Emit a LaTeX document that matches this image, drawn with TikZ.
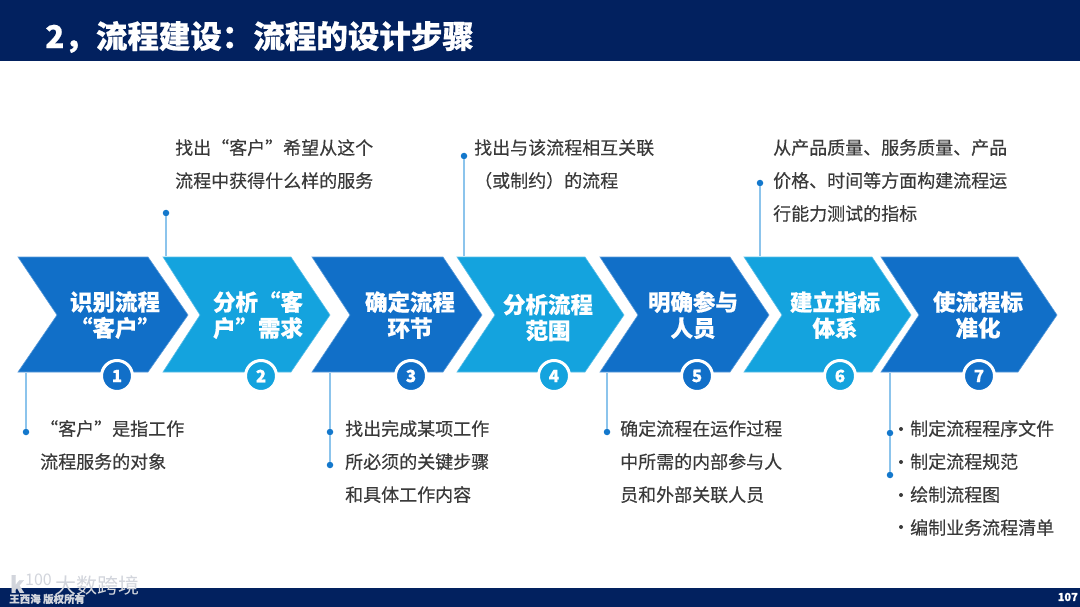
\documentclass[tikz,border=0pt]{standalone}
\usepackage{fontspec}
\setmainfont{Noto Sans CJK SC}[BoldFeatures={FakeBold=0.5}]
\newfontfamily\bodyfont{Noto Sans CJK SC}[FakeBold=0.3]
\usetikzlibrary{shadows}
\definecolor{navy}{HTML}{02215F}
\definecolor{blueA}{HTML}{116FC8}
\definecolor{blueB}{HTML}{14A3DE}
\definecolor{linkc}{HTML}{8CC4EC}
\definecolor{dotc}{HTML}{1478CC}
\definecolor{txt}{HTML}{3A3A3A}
\definecolor{wmark}{HTML}{D2D5DC}
\tikzset{
  x=1pt,y=-1pt,
  band/.style={fill=navy,draw=none},
  chevA/.style={fill=blueA,draw=blueA!70!white,line width=.6pt},
  chevB/.style={fill=blueB,draw=blueB!70!white,line width=.6pt},
  label/.style={font=\fontsize{22.5}{26}\selectfont\bfseries,text=white,align=center,inner sep=0pt},
  body/.style={font=\bodyfont\fontsize{18}{33}\selectfont,text=txt,align=left,inner sep=0pt,anchor=north west},
  link/.style={draw=linkc,line width=1.2pt},
  dotn/.style={circle,fill=dotc,draw=none,minimum size=6.5pt,inner sep=0pt},
  bull/.style={circle,fill=txt,draw=none,minimum size=4pt,inner sep=0pt},
  numA/.style={circle,minimum size=31pt,inner sep=0pt,fill=blueA,draw=white,line width=3pt,text=white,font=\fontsize{17}{17}\selectfont\bfseries,drop shadow={shadow xshift=0pt,shadow yshift=-1pt,opacity=.22,fill=black!60}},
  numB/.style={numA,fill=blueB},
}
\begin{document}
\begin{tikzpicture}
\useasboundingbox (0,0) rectangle (1080,607);
\fill[white] (0,0) rectangle (1080,607);
\path[band] (0,0) rectangle (1080,61);
\path[band] (0,588) rectangle (1080,607);
\node[font=\fontsize{31.5}{32}\selectfont\bfseries,text=white,anchor=west,inner sep=0pt] (title) at (45,37) {2，流程建设：流程的设计步骤};
\node[font=\fontsize{11}{11}\selectfont\bfseries,text=white,anchor=east,inner sep=0pt] (page) at (1078,597) {107};
\node[font=\fontsize{10.5}{10.5}\selectfont\bfseries,text=wmark,anchor=west,inner sep=0pt] (owner) at (9,599) {王西海 版权所有};
\node[font=\fontsize{21}{21}\selectfont,text=wmark,anchor=west,inner sep=0pt] (wm) at (55,585) {大数跨境};
\node[font=\fontsize{22}{22}\selectfont\bfseries,text=wmark,anchor=west,inner sep=0pt] (logok) at (10,584) {k};
\node[font=\fontsize{16}{16}\selectfont,text=wmark,anchor=west,inner sep=0pt] (logon) at (25,580) {100};

% chevrons
\path[chevA] (18,257)--(148,257)--(188,315)--(148,372)--(18,372)--(57,315)--cycle;
\path[chevB] (163,257)--(291,257)--(330,315)--(291,372)--(163,372)--(200,315)--cycle;
\path[chevA] (312,257)--(443,257)--(482,315)--(443,372)--(312,372)--(350,315)--cycle;
\path[chevB] (457,257)--(585,257)--(624,315)--(585,372)--(457,372)--(495,315)--cycle;
\path[chevA] (600,257)--(730,257)--(769,315)--(730,372)--(600,372)--(638,315)--cycle;
\path[chevB] (744,257)--(872,257)--(911,315)--(872,372)--(744,372)--(782,315)--cycle;
\path[chevA] (881,257)--(1018,257)--(1057,315)--(1018,372)--(881,372)--(919,315)--cycle;

\node[label] (l1) at (115,315) {识别流程\\“客户”};
\node[label] (l2) at (258,315) {分析“客\\户”需求};
\node[label] (l3) at (410,315) {确定流程\\环节};
\node[label] (l4) at (548,317.500) {分析流程\\范围};
\node[label] (l5) at (693,315) {明确参与\\人员};
\node[label] (l6) at (835,315) {建立指标\\体系};
\node[label] (l7) at (978,315) {使流程标\\准化};

\node[numA] (n1) at (117,376) {1};
\node[numB] (n2) at (261,376) {2};
\node[numA] (n3) at (411,376) {3};
\node[numB] (n4) at (554,376) {4};
\node[numA] (n5) at (697,376) {5};
\node[numB] (n6) at (840,376) {6};
\node[numA] (n7) at (979,376) {7};

% connectors
\coordinate (c1) at (26,373);
\coordinate (c2) at (166,256);
\coordinate (c3) at (330,373);
\coordinate (c4) at (464,256);
\coordinate (c5) at (607,373);
\coordinate (c6) at (760,256);
\coordinate (c7) at (890,373);
\node[dotn] (d1) at (26,432) {};
\node[dotn] (d2) at (166,213) {};
\node[dotn] (d3a) at (330,432) {};
\node[dotn] (d3b) at (330,465) {};
\node[dotn] (d4) at (464,156) {};
\node[dotn] (d5) at (607,432) {};
\node[dotn] (d6) at (760,183) {};
\node[dotn] (d7a) at (890,433) {};
\node[dotn] (d7b) at (890,475) {};
\draw[link] (c1)--(d1);
\draw[link] (c2)--(d2);
\draw[link] (c3)--(d3a);
\draw[link] (d3a)--(d3b);
\draw[link] (c4)--(d4);
\draw[link] (c5)--(d5);
\draw[link] (c6)--(d6);
\draw[link] (c7)--(d7a);
\draw[link] (d7a)--(d7b);

% body text
\node[body] (t1) at (40,420) {“客户”是指工作\\流程服务的对象};
\node[body] (t2) at (175,139) {找出“客户”希望从这个\\流程中获得什么样的服务};
\node[body] (t3) at (345,420) {找出完成某项工作\\所必须的关键步骤\\和具体工作内容};
\node[body] (t4) at (474,139) {找出与该流程相互关联\\（或制约）的流程};
\node[body] (t5) at (620,420) {确定流程在运作过程\\中所需的内部参与人\\员和外部关联人员};
\node[body] (t6) at (773,139) {从产品质量、服务质量、产品\\价格、时间等方面构建流程运\\行能力测试的指标};
\node[body] (t7) at (910,420) {制定流程程序文件\\制定流程规范\\绘制流程图\\编制业务流程清单};
\node[bull] (b1) at (901,429) {};
\node[bull] (b2) at (901,462) {};
\node[bull] (b3) at (901,495) {};
\node[bull] (b4) at (901,527) {};
\end{tikzpicture}
\end{document}
